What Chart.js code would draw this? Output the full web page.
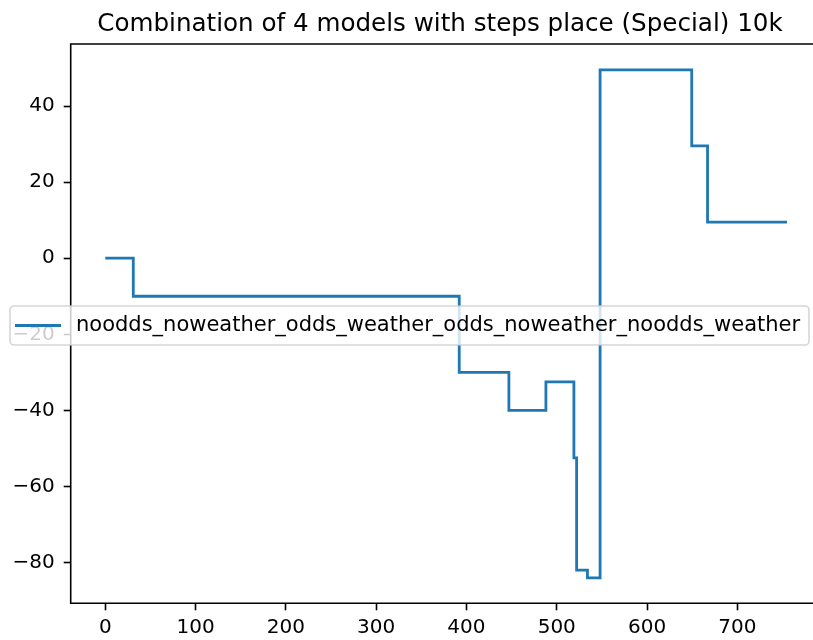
<!DOCTYPE html>
<html>
<head>
<meta charset="utf-8">
<script src="https://cdn.jsdelivr.net/npm/chart.js@4/dist/chart.umd.min.js"></script>
<style>
  html, body { margin: 0; padding: 0; background: #fff; overflow: hidden; }
  #wrap { position: absolute; left: 0; top: 0; width: 813px; height: 640px; }
</style>
</head>
<body>
<div id="wrap"><canvas id="c" width="813" height="640"></canvas></div>
<script>
// Cumulative result of the combined model, one level per step
const stepX  = [0, 31, 392, 447, 488, 519, 522, 534, 548, 649.5, 667, 755];
const levels = [0, -10, -30, -40, -32.5, -52.5, -82, -84, 49.5, 29.5, 9.5, 9.5];

const seriesLabel = 'noodds_noweather_odds_weather_odds_noweather_noodds_weather';
const chartTitle = 'Combination of 4 models with steps place (Special) 10k';

const xTicks = [0, 100, 200, 300, 400, 500, 600, 700];
const yTicks = [-80, -60, -40, -20, 0, 20, 40];

const FONT = "'DejaVu Sans', 'Liberation Sans', sans-serif";
const LINE = '#1f77b4';

const points = stepX.map((x, i) => ({ x, y: levels[i] }));

// Left, top and bottom spines drawn over the line; the axes continue past the right edge
const spines = {
  id: 'spines',
  afterDatasetsDraw(chart) {
    const { ctx, chartArea: a } = chart;
    ctx.save();
    // keep the open right side of the axes blank
    ctx.fillStyle = '#fff';
    ctx.fillRect(a.right - 3, a.top + 1, 4, a.bottom - a.top - 2);
    ctx.strokeStyle = '#000';
    ctx.lineWidth = 1.6;
    ctx.beginPath();
    ctx.moveTo(a.right + 2, a.top);
    ctx.lineTo(a.left, a.top);
    ctx.lineTo(a.left, a.bottom);
    ctx.lineTo(a.right + 2, a.bottom);
    ctx.stroke();
    ctx.restore();
  }
};

// Title above the axes
const titlePlugin = {
  id: 'titleText',
  afterDraw(chart) {
    const { ctx } = chart;
    ctx.save();
    ctx.fillStyle = '#000';
    ctx.font = '24.6px ' + FONT;
    ctx.textAlign = 'center';
    ctx.textBaseline = 'alphabetic';
    ctx.fillText(chartTitle, 440, 30.5);
    ctx.restore();
  }
};

// Semi-transparent legend box laid over the plot
const legendBox = {
  id: 'legendBox',
  afterDraw(chart) {
    const { ctx } = chart;
    const x = 10, y = 306, w = 799, h = 39, r = 4;
    ctx.save();
    ctx.beginPath();
    ctx.moveTo(x + r, y);
    ctx.lineTo(x + w - r, y);
    ctx.arcTo(x + w, y, x + w, y + r, r);
    ctx.lineTo(x + w, y + h - r);
    ctx.arcTo(x + w, y + h, x + w - r, y + h, r);
    ctx.lineTo(x + r, y + h);
    ctx.arcTo(x, y + h, x, y + h - r, r);
    ctx.lineTo(x, y + r);
    ctx.arcTo(x, y, x + r, y, r);
    ctx.closePath();
    ctx.fillStyle = 'rgba(255,255,255,0.8)';
    ctx.fill();
    ctx.strokeStyle = 'rgba(204,204,204,0.8)';
    ctx.lineWidth = 1.6;
    ctx.stroke();

    const ds = chart.data.datasets[0];
    const cy = y + h / 2;
    ctx.strokeStyle = ds.borderColor;
    ctx.lineWidth = ds.borderWidth;
    ctx.beginPath();
    ctx.moveTo(15, cy);
    ctx.lineTo(61, cy);
    ctx.stroke();

    ctx.fillStyle = '#000';
    ctx.font = '21px ' + FONT;
    ctx.textAlign = 'left';
    ctx.textBaseline = 'middle';
    ctx.fillText(ds.label, 76, cy);
    ctx.restore();
  }
};

const minus = v => String(v).replace('-', '\u2212');

new Chart(document.getElementById('c'), {
  type: 'line',
  data: {
    datasets: [{
      label: seriesLabel,
      data: points,
      stepped: 'before',
      borderColor: LINE,
      backgroundColor: LINE,
      borderWidth: 2.8,
      pointRadius: 0,
      fill: false,
      tension: 0
    }]
  },
  options: {
    responsive: false,
    animation: false,
    events: [],
    layout: { padding: { top: 44, left: 0, right: 0, bottom: 0 } },
    plugins: {
      legend: { display: false },
      title: { display: false },
      tooltip: { enabled: false }
    },
    scales: {
      x: {
        type: 'linear',
        min: -38.3,
        max: 783.8,
        afterBuildTicks: s => { s.ticks = xTicks.map(v => ({ value: v })); },
        afterFit: s => { s.height = 36.7; },
        grid: { display: true, drawOnChartArea: false, drawTicks: true, tickLength: 7, tickWidth: 1.6, tickColor: '#000' },
        border: { display: false },
        ticks: {
          padding: 5,
          maxRotation: 0,
          autoSkip: false,
          color: '#000',
          font: { family: FONT, size: 20 },
          callback: v => minus(v)
        }
      },
      y: {
        type: 'linear',
        min: -90.7,
        max: 56.3,
        afterBuildTicks: s => { s.ticks = yTicks.map(v => ({ value: v })); },
        afterFit: s => { s.width = 70.7; },
        grid: { display: true, drawOnChartArea: false, drawTicks: true, tickLength: 7, tickWidth: 1.6, tickColor: '#000' },
        border: { display: false },
        ticks: {
          padding: 9,
          autoSkip: false,
          color: '#000',
          font: { family: FONT, size: 20 },
          callback: v => minus(v)
        }
      }
    }
  },
  plugins: [spines, titlePlugin, legendBox]
});
</script>
</body>
</html>
